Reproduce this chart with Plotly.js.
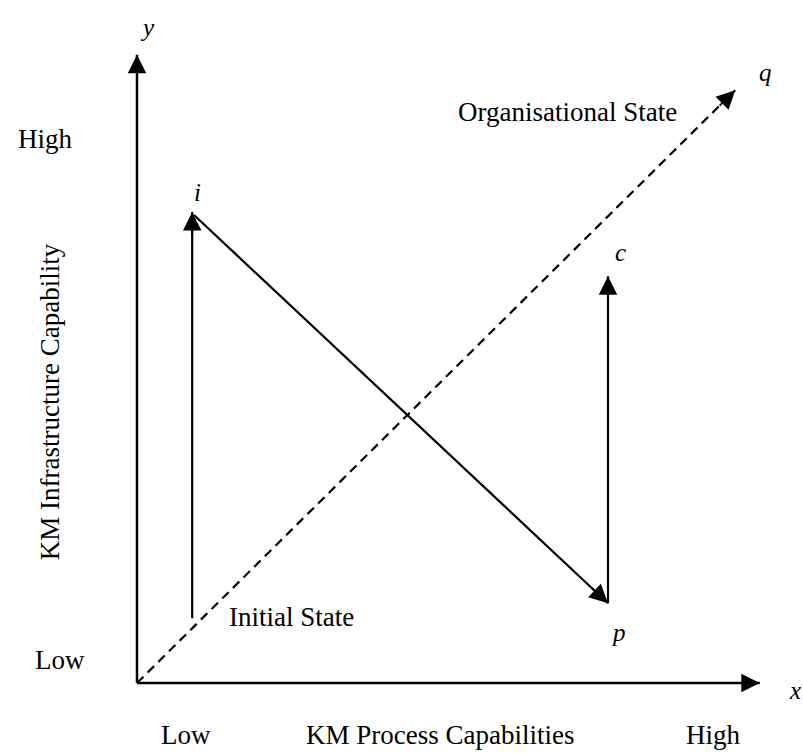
<!DOCTYPE html>
<html>
<head>
<meta charset="utf-8">
<script src="https://cdn.plot.ly/plotly-3.0.1.min.js"></script>
<style>html,body{margin:0;padding:0;background:#fff;}#chart{width:803px;height:753px;}</style>
</head>
<body>
<div id="chart"></div>
<script>
// Diagram coordinates (capability units; origin = Low/Low)
const xAxisX = [0, 10.38];
const xAxisY = [0, 0];
const yAxisX = [0, 0];
const yAxisY = [0, 10.47];
const initialX = [0.92, 0.92];          // Initial State -> i
const initialY = [1.08, 7.85];
const transitionX = [0.95, 7.85];       // i -> p
const transitionY = [7.80, 1.33];
const conversionX = [7.85, 7.85];       // p -> c
const conversionY = [1.33, 6.78];
const orgStateX = [0, 9.97];            // Organisational State -> q
const orgStateY = [0, 9.88];

// Point labels
const pointNames = ['y', 'i', 'c', 'p', 'q', 'x'];
const pointX = [0.18, 1.0, 8.05, 8.03, 10.48, 10.97];
const pointY = [10.93, 8.18, 7.17, 0.85, 10.18, -0.12];

// Axis scale labels
const scaleLabels = ['High', 'Low', 'Low', 'High'];
const scaleX = [-1.53, -1.28, 0.82, 9.6];
const scaleY = [9.07, 0.38, -0.87, -0.87];

const xTitle = 'KM Process Capabilities';
const yTitle = 'KM Infrastructure Capability';
const stateNames = ['Organisational State', 'Initial State'];
const stateX = [7.18, 2.58];
const stateY = [9.52, 1.10];

const serif = 'Liberation Serif, Times New Roman, serif';
const ink = '#000';

function seg(x, y, w, dash) {
  return {x: x, y: y, mode: 'lines', type: 'scatter', hoverinfo: 'skip',
          line: {color: ink, width: w, dash: dash || 'solid'}, showlegend: false};
}
const traces = [
  seg(xAxisX, xAxisY, 2.5),
  seg(yAxisX, yAxisY, 2.5),
  seg(initialX, initialY, 2.2),
  seg(transitionX, transitionY, 2.2),
  seg(conversionX, conversionY, 2.2),
  seg(orgStateX, orgStateY, 2.2, '9px,6px')
];

function head(xs, ys) {
  const n = xs.length - 1;
  const dx = xs[n] - xs[n - 1], dy = ys[n] - ys[n - 1];
  const L = Math.sqrt(dx * dx + dy * dy);
  return {x: xs[n], y: ys[n], ax: xs[n] - dx / L * 0.4, ay: ys[n] - dy / L * 0.4,
          xref: 'x', yref: 'y', axref: 'x', ayref: 'y', text: '', showarrow: true,
          arrowhead: 2, arrowsize: 1.85, arrowwidth: 2, arrowcolor: ink};
}
const annotations = [
  head(xAxisX, xAxisY), head(yAxisX, yAxisY), head(initialX, initialY),
  head(transitionX, transitionY), head(conversionX, conversionY), head(orgStateX, orgStateY)
];
function label(t, x, y, size, italic, angle) {
  return {x: x, y: y, xref: 'x', yref: 'y', text: t, showarrow: false,
          xanchor: 'center', yanchor: 'middle', textangle: angle || 0,
          font: {family: serif, size: size, color: ink, style: italic ? 'italic' : 'normal'}};
}
pointNames.forEach((t, k) => annotations.push(label(t, pointX[k], pointY[k], 25, true)));
scaleLabels.forEach((t, k) => annotations.push(label(t, scaleX[k], scaleY[k], 27)));
stateNames.forEach((t, k) => annotations.push(label(t, stateX[k], stateY[k], 27)));
annotations.push(label(xTitle, 5.05, -0.87, 27));
annotations.push(label(yTitle, -1.45, 4.68, 27, false, -90));

const layout = {
  width: 803, height: 753,
  margin: {l: 0, r: 0, t: 0, b: 0},
  paper_bgcolor: '#fff', plot_bgcolor: '#fff',
  showlegend: false,
  xaxis: {range: [-137 / 60, 666 / 60], visible: false, fixedrange: true},
  yaxis: {range: [-70 / 60, 683 / 60], visible: false, fixedrange: true},
  annotations: annotations
};
Plotly.newPlot('chart', traces, layout, {displayModeBar: false, staticPlot: true});
</script>
</body>
</html>
